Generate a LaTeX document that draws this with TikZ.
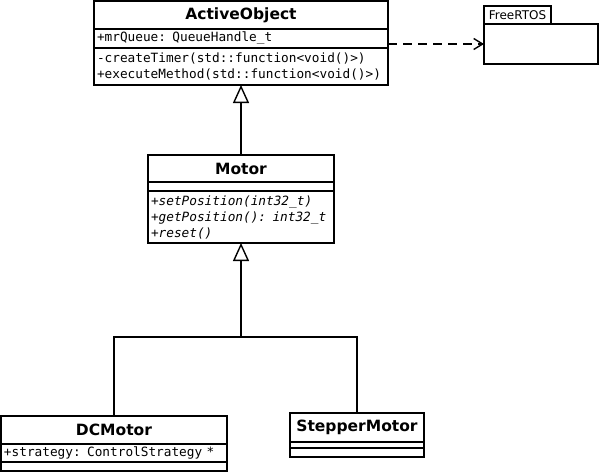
\documentclass[tikz,border=0pt]{standalone}
\usepackage{fontspec}
\setsansfont{DejaVu Sans}
\setmonofont{DejaVu Sans Mono}
\usetikzlibrary{arrows.meta,positioning}

\begin{document}
\begin{tikzpicture}[x=1pt, y=-1pt,
    box/.style={rectangle, draw, line width=1.4pt, inner sep=0pt, outer sep=0pt},
    classname/.style={box, font=\sffamily\bfseries\fontsize{15.5}{18}\selectfont},
    members/.style={box, font=\ttfamily\fontsize{12.75}{16}\selectfont, align=left, inner xsep=3pt, inner ysep=2pt},
    inherit/.style={line width=1.4pt, -{Triangle[open, length=18pt, width=16pt, line width=1.4pt]}},
    uses/.style={line width=1.4pt, dash pattern=on 9pt off 6pt, -{Straight Barb[length=9pt, width=11pt, line width=1.4pt]}}
]
\useasboundingbox (0,0) rectangle (601,474);

% ActiveObject
\node[classname, minimum width=294pt, minimum height=28pt] (ao) at (241,15) {ActiveObject};
\node[members, text width=288pt, minimum height=19pt, below=0pt of ao] (aoAttr) {+mrQueue: QueueHandle\_t};
\node[members, text width=288pt, minimum height=37pt, below=0pt of aoAttr] (aoOps) {-createTimer(std::function<void()>)\\+executeMethod(std::function<void()>)};

% FreeRTOS package
\node[box, font=\sffamily\fontsize{12}{14}\selectfont, minimum width=67pt, minimum height=18pt, anchor=south west] (rtosTab) at (484,24) {FreeRTOS};
\node[box, minimum width=114pt, minimum height=40pt, anchor=north west] (rtos) at (484,24) {};

% Motor
\node[classname, minimum width=186pt, minimum height=27pt] (motor) at (241,168.5) {Motor};
\node[members, minimum width=186pt, minimum height=9pt, below=0pt of motor] (motorAttr) {};
\node[members, font=\ttfamily\itshape\fontsize{12.75}{16}\selectfont, text width=180pt, minimum height=52pt, below=0pt of motorAttr] (motorOps) {+setPosition(int32\_t)\\+getPosition(): int32\_t\\+reset()};

% DCMotor
\node[classname, minimum width=226pt, minimum height=28pt] (dc) at (114,430) {DCMotor};
\node[members, text width=220pt, minimum height=18pt, below=0pt of dc] (dcAttr) {+strategy: ControlStrategy *};
\node[members, minimum width=226pt, minimum height=9pt, below=0pt of dcAttr] (dcOps) {};

% StepperMotor
\node[classname, minimum width=134pt, minimum height=29pt] (stepper) at (357,427.5) {StepperMotor};
\node[members, minimum width=134pt, minimum height=6pt, below=0pt of stepper] (stepperAttr) {};
\node[members, minimum width=134pt, minimum height=9pt, below=0pt of stepperAttr] (stepperOps) {};

% Arrows
\draw[uses] (aoAttr.east |- rtos.west) -- (rtos.west);
\draw[inherit] (motor.north) -- (aoOps.south);

\coordinate (branch) at (241,337);
\draw[line width=1.4pt] (dc.north) |- (branch) -| (stepper.north);
\draw[inherit] (branch) -- (motorOps.south);

\end{tikzpicture}
\end{document}
